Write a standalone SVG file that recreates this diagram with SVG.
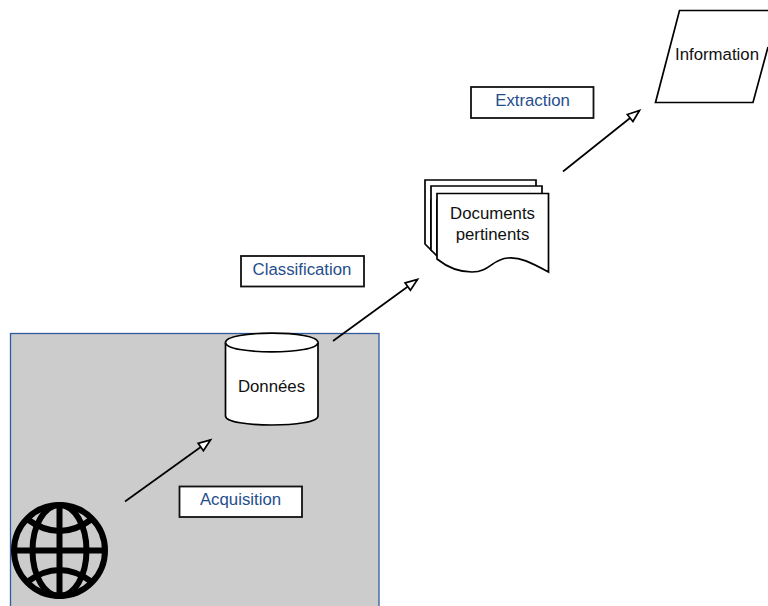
<svg xmlns="http://www.w3.org/2000/svg" width="768" height="606" viewBox="0 0 768 606">
<style>
text{font-family:"Liberation Sans",Arial,sans-serif;font-size:16.8px;text-anchor:middle;fill:#111}
.lab text{fill:#1f4e8c}
.lab rect{fill:#fff;stroke:#111;stroke-width:1.8}
.shape{fill:#fff;stroke:#000;stroke-width:1.7;stroke-linejoin:miter}
.conn{fill:none;stroke:#000;stroke-width:1.7;marker-end:url(#arrow)}
.globe{fill:none;stroke:#000;stroke-width:6}
</style>
<defs>
<marker id="arrow" markerUnits="userSpaceOnUse" markerWidth="16" markerHeight="14" refX="13" refY="5" orient="auto" overflow="visible">
<path d="M1 0.500L13 5L1 9.500Z" fill="#fff" stroke="#000" stroke-width="1.700"/>
</marker>
</defs>
<rect id="zone" x="10.500" y="333.500" width="368.500" height="290" fill="#cccccc" stroke="#2f5c9e" stroke-width="1.300"/>
<g id="connectors">
<line class="conn" x1="125" y1="501.500" x2="210.500" y2="440"/>
<line class="conn" x1="333" y1="341" x2="417.500" y2="279.500"/>
<line class="conn" x1="563" y1="171.500" x2="639.500" y2="110.500"/>
</g>
<g id="globe" class="globe">
<circle cx="59.500" cy="550.500" r="45.500"/>
<ellipse cx="59.500" cy="550.500" rx="27" ry="45.500"/>
<line x1="59.500" y1="505" x2="59.500" y2="596"/>
<line x1="14" y1="550.500" x2="105" y2="550.500"/>
<path d="M27 519Q59.500 543 92 519"/>
<path d="M27 582Q59.500 558 92 582"/>
</g>
<g id="donnees">
<path class="shape" d="M225.500 342.500C225.500 330 318 330 318 342.500V416C318 428 225.500 428 225.500 416Z"/>
<path class="shape" fill="none" d="M225.500 342.500C225.500 355 318 355 318 342.500"/>
<text x="271.500" y="391.500">Données</text>
</g>
<g id="documents">
<path class="shape" d="M425 180H536V200H431V250L425 244Z"/>
<path class="shape" d="M431 186H542V200H437V256L431 250Z"/>
<path class="shape" d="M437 193.500H548.500V272C530 262 520 257 508 258C492 259 490 272 472 272C458 272 447 267 437 259Z"/>
<text x="492.500" y="219">Documents</text>
<text x="492.500" y="240">pertinents</text>
</g>
<g id="information">
<path class="shape" d="M768.500 10.500H679.500L655.500 102.500H753L768 47"/>
<text x="717" y="60">Information</text>
</g>
<g id="acquisition" class="lab">
<rect x="179.500" y="486.500" width="122.500" height="30.500"/>
<text x="240.500" y="505">Acquisition</text>
</g>
<g id="classification" class="lab">
<rect x="241" y="256" width="123" height="30.500"/>
<text x="302" y="275">Classification</text>
</g>
<g id="extraction" class="lab">
<rect x="471" y="87" width="122.500" height="31"/>
<text x="532.500" y="106">Extraction</text>
</g>
</svg>
